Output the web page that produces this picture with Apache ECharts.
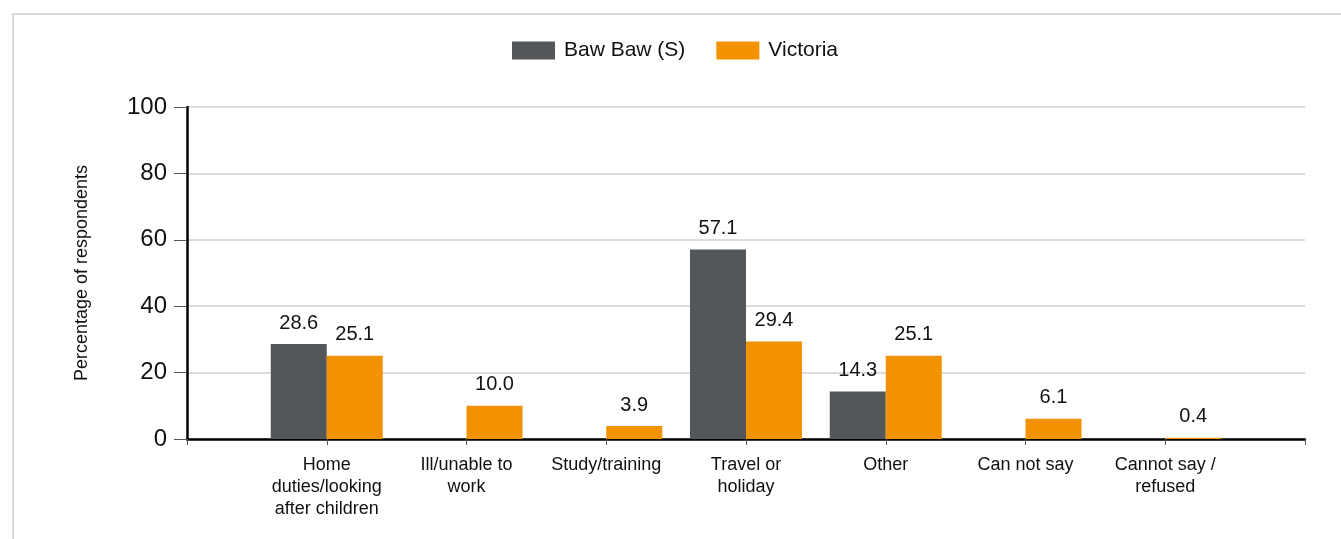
<!DOCTYPE html>
<html>
<head>
<meta charset="utf-8">
<script src="https://cdn.jsdelivr.net/npm/echarts@6/dist/echarts.min.js"></script>
<style>
html,body{margin:0;padding:0;background:#fff;overflow:hidden;}
#frame{position:absolute;left:12px;top:13px;width:1360px;height:560px;border:2px solid #d9d9d9;box-sizing:border-box;}
#chart{position:absolute;left:0;top:0;width:1341px;height:539px;}
</style>
</head>
<body>
<div id="frame"></div>
<div id="chart"></div>
<script>
const categories = ['', 'Home\nduties/looking\nafter children', 'Ill/unable to\nwork', 'Study/training', 'Travel or\nholiday', 'Other', 'Can not say', 'Cannot say /\nrefused', ''];
const bawBaw = [null, 28.6, null, null, 57.1, 14.3, null, null, null];
const victoria = [null, 25.1, 10.0, 3.9, 29.4, 25.1, 6.1, 0.4, null];
const seriesNames = ['Baw Baw (S)', 'Victoria'];
const colors = ['#54575a', '#f39200'];

const font = 'Liberation Sans, Arial, sans-serif';
const chart = echarts.init(document.getElementById('chart'));
const labelCfg = {
  show: true, position: 'top', distance: 11, fontSize: 20, color: '#111', fontFamily: font,
  formatter: p => (p.value == null ? '' : Number(p.value).toFixed(1))
};
chart.setOption({
  animation: false,
  color: colors,
  legend: {
    top: 35, left: 507, itemWidth: 43, itemHeight: 18, itemGap: 31, icon: 'rect',
    textStyle: { fontSize: 21, color: '#111', fontFamily: font, padding: [0, 0, 0, 4] },
    data: seriesNames
  },
  grid: { left: 187, right: 36, top: 107, bottom: 100, containLabel: false },
  xAxis: {
    type: 'category', data: categories, boundaryGap: false,
    axisLine: { lineStyle: { color: '#000', width: 2.5 } },
    axisTick: { show: true, length: 6, lineStyle: { color: '#555', width: 1 } },
    axisLabel: { interval: 0, margin: 15, fontSize: 18, lineHeight: 22, color: '#111', fontFamily: font },
    splitLine: { show: false }
  },
  yAxis: {
    type: 'value', min: 0, max: 100, interval: 20,
    name: 'Percentage of respondents', nameLocation: 'middle', nameGap: 96,
    nameTextStyle: { fontSize: 18, color: '#111', fontFamily: font },
    axisLine: { show: true, lineStyle: { color: '#000', width: 2.5 } },
    axisTick: { show: true, length: 13, lineStyle: { color: '#555', width: 1 } },
    axisLabel: { margin: 20, fontSize: 24, color: '#111', fontFamily: font },
    splitLine: { lineStyle: { color: '#dcdcdc', width: 2 } }
  },
  series: [
    { name: seriesNames[0], type: 'bar', data: bawBaw, barWidth: 56, barGap: '0%', label: labelCfg },
    { name: seriesNames[1], type: 'bar', data: victoria, barWidth: 56, barGap: '0%', label: labelCfg }
  ]
});
</script>
</body>
</html>
